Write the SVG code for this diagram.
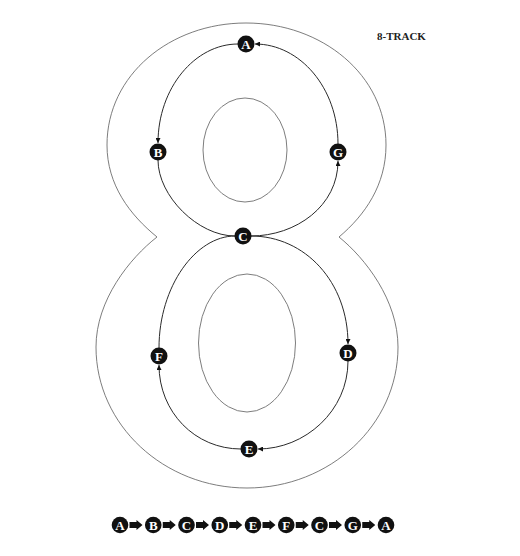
<svg xmlns="http://www.w3.org/2000/svg" width="520" height="556" viewBox="0 0 520 556">
<defs>
<style>
.outline{fill:none;stroke:#6e6e6e;stroke-width:0.9}
.track{fill:none;stroke:#2a2a2a;stroke-width:1}
.node circle{fill:#111}
.node text,.seq text{fill:#fff;font-family:"Liberation Serif",serif;font-weight:bold;font-size:13px;text-anchor:middle}
.seq circle{fill:#111}
.blk{fill:#111}
.title{font-family:"Liberation Serif",serif;font-weight:bold;font-size:11px;fill:#222}
</style>
<marker id="ah" viewBox="0 0 6 6" refX="6" refY="3" markerWidth="5" markerHeight="5" orient="auto" markerUnits="userSpaceOnUse">
<path d="M0,0 L6,3 L0,6 Z" fill="#111"/>
</marker>
<path id="blkarrow" d="M0,-3 L7,-3 L7,-5 L13,0 L7,5 L7,3 L0,3 Z"/>
</defs>
<rect width="520" height="556" fill="#fff"/>
<g id="shape">
<path class="outline" d="M157,237 C130,215 107,185 107,145 C107,75 170,23 246,23 C322,23 386,75 386,145 C386,185 365,215 339,237 C365,258 398,300 398,347 C398,425 330,488 247,488 C164,488 96,425 96,347 C96,300 130,258 157,237 Z"/>
<ellipse class="outline" cx="245" cy="150" rx="42" ry="52"/>
<ellipse class="outline" cx="247" cy="343" rx="48.5" ry="69"/>
</g>
<text class="title" x="377" y="40">8-TRACK</text>
<g id="connectors">
<path class="track" d="M238,44 C195,44 158,88 158,143" marker-end="url(#ah)"/>
<path class="track" d="M158,160 C158,196 198,236 235,236"/>
<path class="track" d="M251,236 C305,236 348,282 348,344" marker-end="url(#ah)"/>
<path class="track" d="M348,361 C348,411 305,449 258,449" marker-end="url(#ah)"/>
<path class="track" d="M241,449 C195,449 159,412 159,365" marker-end="url(#ah)"/>
<path class="track" d="M159,348 C159,286 196,236 235,236"/>
<path class="track" d="M251,236 C296,236 338,206 338,161" marker-end="url(#ah)"/>
<path class="track" d="M338,144 C338,88 300,44 255,44" marker-end="url(#ah)"/>
</g>
<g id="node-A" class="node"><circle cx="246" cy="44" r="8.5"/><text x="246" y="48.6">A</text></g>
<g id="node-B" class="node"><circle cx="158" cy="152" r="8.5"/><text x="158" y="156.6">B</text></g>
<g id="node-G" class="node"><circle cx="338" cy="152" r="8.5"/><text x="338" y="156.6">G</text></g>
<g id="node-C" class="node"><circle cx="243" cy="236" r="8.5"/><text x="243" y="240.6">C</text></g>
<g id="node-D" class="node"><circle cx="348" cy="353" r="8.5"/><text x="348" y="357.6">D</text></g>
<g id="node-F" class="node"><circle cx="159" cy="356" r="8.5"/><text x="159" y="360.6">F</text></g>
<g id="node-E" class="node"><circle cx="249" cy="449" r="8.5"/><text x="249" y="453.6">E</text></g>
<g id="sequence" class="seq">
<circle cx="120" cy="525" r="8.3"/><text x="120" y="529.6">A</text>
<use href="#blkarrow" class="blk" x="129.5" y="525"/>
<circle cx="153.25" cy="525" r="8.3"/><text x="153.25" y="529.6">B</text>
<use href="#blkarrow" class="blk" x="162.75" y="525"/>
<circle cx="186.5" cy="525" r="8.3"/><text x="186.5" y="529.6">C</text>
<use href="#blkarrow" class="blk" x="196" y="525"/>
<circle cx="219.75" cy="525" r="8.3"/><text x="219.75" y="529.6">D</text>
<use href="#blkarrow" class="blk" x="229.25" y="525"/>
<circle cx="253" cy="525" r="8.3"/><text x="253" y="529.6">E</text>
<use href="#blkarrow" class="blk" x="262.5" y="525"/>
<circle cx="286.25" cy="525" r="8.3"/><text x="286.25" y="529.6">F</text>
<use href="#blkarrow" class="blk" x="295.75" y="525"/>
<circle cx="319.5" cy="525" r="8.3"/><text x="319.5" y="529.6">C</text>
<use href="#blkarrow" class="blk" x="329" y="525"/>
<circle cx="352.75" cy="525" r="8.3"/><text x="352.75" y="529.6">G</text>
<use href="#blkarrow" class="blk" x="362.25" y="525"/>
<circle cx="386" cy="525" r="8.3"/><text x="386" y="529.6">A</text>
</g>
</svg>
